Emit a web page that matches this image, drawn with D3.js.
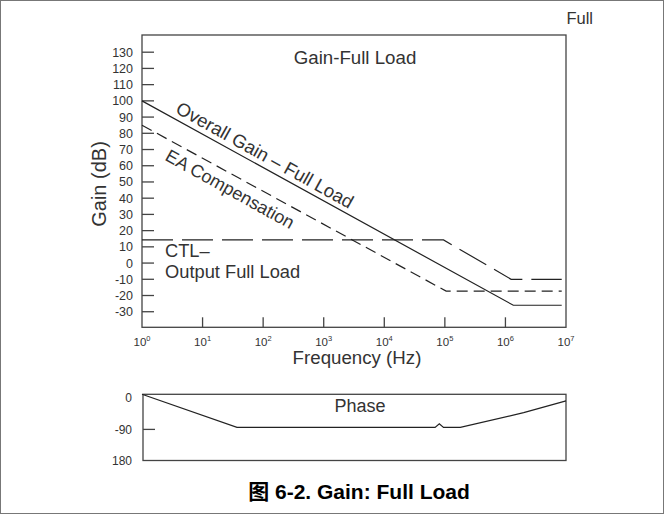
<!DOCTYPE html>
<html><head><meta charset="utf-8">
<script src="https://cdn.jsdelivr.net/npm/d3@7"></script>
<style>
body{margin:0;background:#fff}
svg{display:block}
text{font-family:"Liberation Sans",Arial,Helvetica,sans-serif;fill:#333}
</style>
</head><body>
<svg id="c" width="664" height="514"></svg>
<script>
// ---- data ----
const freqTicks = [1, 10, 100, 1e3, 1e4, 1e5, 1e6, 1e7];
const freqExp = ["0", "1", "2", "3", "4", "5", "6", "7"];
const gainTicks = [130, 120, 110, 100, 90, 80, 70, 60, 50, 40, 30, 20, 10, 0, -10, -20, -30];
const overallGain = [[1, 100], [1.35e6, -26], [8.5e6, -26]];
const eaComp = [[1, 85], [1.05e5, -17.3], [8.5e6, -17.3]];
const ctlOutput = [[1, 14.3], [9.5e4, 14.3], [1.24e6, -10], [8.5e6, -10]];
const phaseData = [[1, 0], [37, -90], [6.9e4, -90], [8.1e4, -80], [9.5e4, -90], [1.8e5, -90], [2e6, -50], [1e7, -18]];
const phaseTicks = [0, -90, -180];
const phaseTickLabels = ["0", "-90", "180"];

const svg = d3.select("#c");

// outer border
svg.append("rect").attr("x", 0.5).attr("y", 0.5).attr("width", 663).attr("height", 513)
  .attr("fill", "none").attr("stroke", "#777").attr("stroke-width", 1);

// scales
const L = 142, R = 566, T = 35, B = 327.3;
const x = d3.scaleLog().domain([1, 1e7]).range([L, R]);
const y = d3.scaleLinear().domain([-39.6, 140.6]).range([B, T]);

// frame
svg.append("rect").attr("x", L).attr("y", T).attr("width", R - L).attr("height", B - T)
  .attr("fill", "none").attr("stroke", "#444").attr("stroke-width", 1.3);

// y ticks
const gy = svg.append("g");
gy.selectAll("line").data(gainTicks).join("line")
  .attr("x1", L).attr("x2", L + 12).attr("y1", d => y(d)).attr("y2", d => y(d))
  .attr("stroke", "#444").attr("stroke-width", 1.3);
gy.selectAll("text").data(gainTicks).join("text")
  .attr("x", L - 9).attr("y", d => y(d)).attr("dy", "0.36em")
  .attr("text-anchor", "end").attr("font-size", 12.5).text(d => d);

// x ticks
const gx = svg.append("g");
gx.selectAll("line").data(freqTicks.slice(1, -1)).join("line")
  .attr("x1", d => x(d)).attr("x2", d => x(d)).attr("y1", B).attr("y2", B - 10)
  .attr("stroke", "#444").attr("stroke-width", 1.3);
const xl = gx.selectAll("text").data(freqTicks).join("text")
  .attr("x", d => x(d)).attr("y", B + 19).attr("text-anchor", "middle").attr("font-size", 11.5);
xl.append("tspan").text("10");
xl.append("tspan").attr("dy", -5).attr("font-size", 7.5).text((d, i) => freqExp[i]);

// axis titles
svg.append("text").attr("x", 357).attr("y", 364).attr("text-anchor", "middle")
  .attr("font-size", 18.7).text("Frequency (Hz)");
svg.append("text").attr("transform", "translate(106,184) rotate(-90)").attr("text-anchor", "middle")
  .attr("font-size", 20).text("Gain (dB)");
svg.append("text").attr("x", 355).attr("y", 64).attr("text-anchor", "middle")
  .attr("font-size", 18.7).text("Gain-Full Load");
svg.append("text").attr("x", 593).attr("y", 24).attr("text-anchor", "end")
  .attr("font-size", 16.5).text("Full");

// lines
const line = d3.line().x(d => x(d[0])).y(d => y(d[1]));
svg.append("path").datum(overallGain).attr("d", line).attr("fill", "none")
  .attr("stroke", "#222").attr("stroke-width", 1.2);
svg.append("path").datum(eaComp).attr("d", line).attr("fill", "none")
  .attr("stroke", "#222").attr("stroke-width", 1.2).attr("stroke-dasharray", "11,6");
svg.append("path").datum(ctlOutput).attr("d", line).attr("fill", "none")
  .attr("stroke", "#222").attr("stroke-width", 1.2).attr("stroke-dasharray", "31,9");

// annotations
svg.append("text").attr("transform", "translate(265,155) rotate(29)").attr("text-anchor", "middle")
  .attr("dy", "0.35em").attr("font-size", 18.5).text("Overall Gain – Full Load");
svg.append("text").attr("transform", "translate(230,189) rotate(29)").attr("text-anchor", "middle")
  .attr("dy", "0.35em").attr("font-size", 18).text("EA Compensation");
svg.append("text").attr("x", 165).attr("y", 251).attr("dy", "0.35em").attr("font-size", 18.3).text("CTL–");
svg.append("text").attr("x", 165).attr("y", 272).attr("dy", "0.35em").attr("font-size", 18.3).text("Output Full Load");

// phase panel
const PT = 394.3, PB = 460.5;
const py = d3.scaleLinear().domain([-180, 0]).range([PB, PT]);
svg.append("rect").attr("x", L + 1).attr("y", PT).attr("width", R - L - 1).attr("height", PB - PT)
  .attr("fill", "none").attr("stroke", "#444").attr("stroke-width", 1.3);
svg.append("line").attr("x1", L + 1).attr("x2", L + 13).attr("y1", py(-90) + 2).attr("y2", py(-90) + 2)
  .attr("stroke", "#444").attr("stroke-width", 1.3);
svg.selectAll(".pt").data(phaseTicks).join("text").attr("class", "pt")
  .attr("x", L - 10).attr("y", (d, i) => py(d) + [3, 2, 0][i]).attr("dy", "0.36em")
  .attr("text-anchor", "end").attr("font-size", 12).text((d, i) => phaseTickLabels[i]);
svg.append("text").attr("x", 360).attr("y", 412).attr("text-anchor", "middle")
  .attr("font-size", 18).text("Phase");
const pline = d3.line().x(d => x(d[0])).y(d => py(d[1]));
svg.append("path").datum(phaseData).attr("d", pline).attr("fill", "none")
  .attr("stroke", "#222").attr("stroke-width", 1.2);

// caption
svg.append("text").attr("x", 359).attr("y", 499).attr("text-anchor", "middle")
  .attr("font-size", 21).attr("font-weight", "bold").style("fill", "#000")
  .style("font-family", "'Liberation Sans','Noto Sans CJK SC',Arial,sans-serif")
  .text("图 6-2. Gain: Full Load");
</script>
</body></html>
